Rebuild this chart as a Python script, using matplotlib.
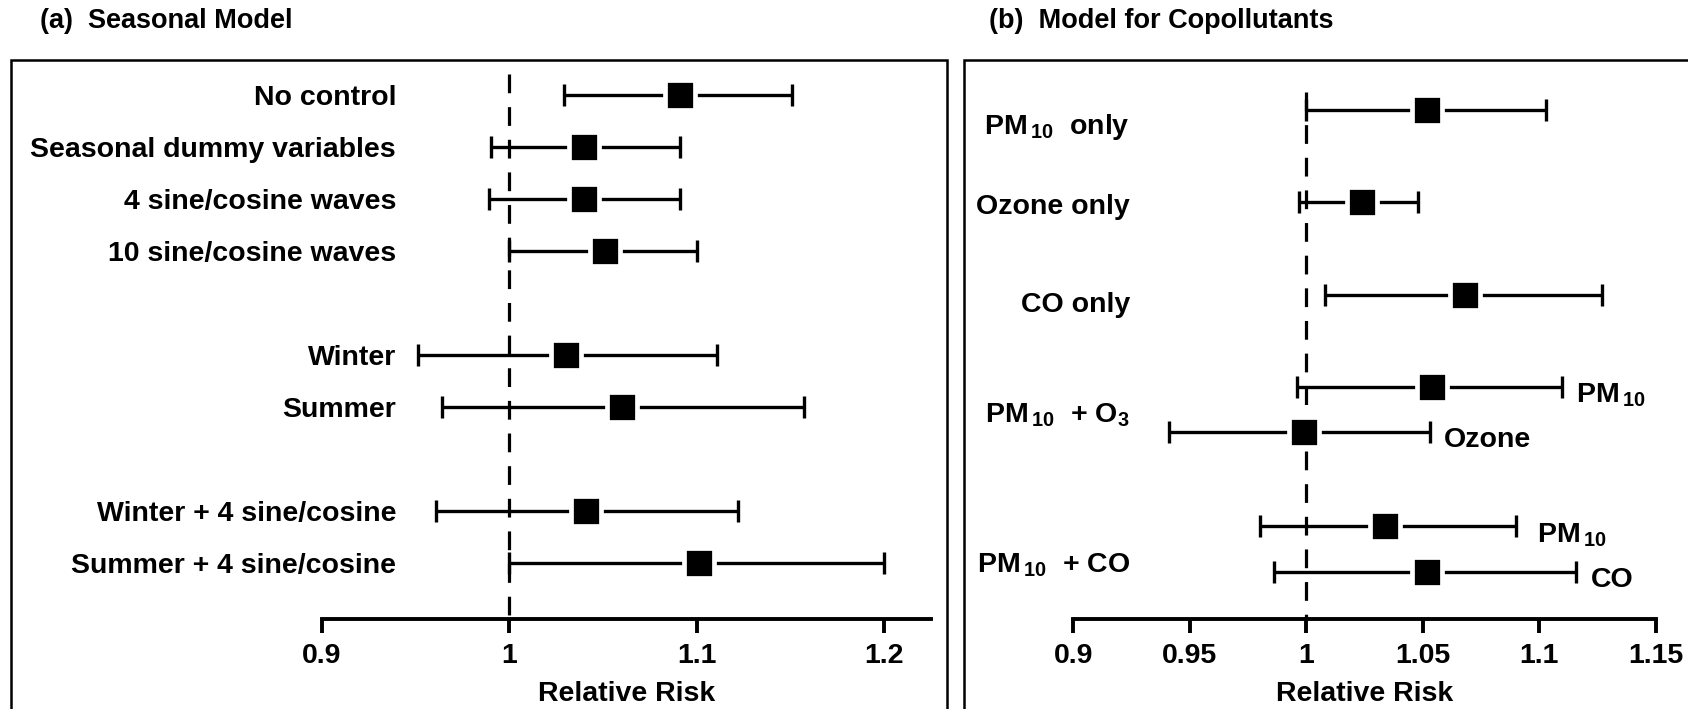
import numpy as np
import matplotlib
matplotlib.use("Agg")
import matplotlib.pyplot as plt
from matplotlib.patches import Rectangle

plt.rcParams["font.family"] = ["Liberation Sans", "DejaVu Sans"]
plt.rcParams["font.weight"] = "bold"
plt.rcParams["axes.labelweight"] = "bold"
plt.rcParams["mathtext.fontset"] = "custom"
plt.rcParams["mathtext.bf"] = "Liberation Sans:bold"
plt.rcParams["mathtext.rm"] = "Liberation Sans:bold"
plt.rcParams["mathtext.default"] = "bf"
plt.rcParams["lines.scale_dashes"] = False

# (a) seasonal model: relative risk and 95% CI
season_labels = ["No control", "Seasonal dummy variables", "4 sine/cosine waves",
                 "10 sine/cosine waves", "Winter", "Summer",
                 "Winter + 4 sine/cosine", "Summer + 4 sine/cosine"]
season_rr = [1.091, 1.040, 1.040, 1.051, 1.030, 1.060, 1.041, 1.101]
season_lo = [1.029, 0.990, 0.989, 1.000, 0.951, 0.964, 0.961, 1.000]
season_hi = [1.151, 1.091, 1.091, 1.100, 1.111, 1.157, 1.122, 1.200]

# (b) copollutant model
copoll_rr = [1.052, 1.024, 1.068, 1.054, 0.999, 1.034, 1.052]
copoll_lo = [1.000, 0.997, 1.008, 0.996, 0.941, 0.980, 0.986]
copoll_hi = [1.103, 1.048, 1.127, 1.110, 1.053, 1.090, 1.116]
copoll_models = ["PM$_{\\,10}$  only", "Ozone only", "CO only",
                 "PM$_{\\,10}$  + O$_3$", "PM$_{\\,10}$  + CO"]
copoll_pollutants = [None, None, None, "PM$_{\\,10}$", "Ozone", "PM$_{\\,10}$", "CO"]

null_rr = 1.0

# layout (row positions, pixel-derived)
season_rows = [0, 1, 2, 3, 5, 6, 8, 9]
copoll_rows = [0.29, 2.05, 3.84, 5.61, 6.47, 8.29, 9.16]
model_label_rows = [0.74, 2.28, 4.16, 6.30, 9.18]
poll_label_dx = [0, 0, 0, 0.006, 0.006, 0.009, 0.006]
y_bottom, y_top = 10.07, -0.675

W, H = 1688, 709
fig = plt.figure(figsize=(W / 100, H / 100), dpi=100)

ax1 = fig.add_axes([322 / W, 90 / H, 609 / W, 559 / H])
ax2 = fig.add_axes([1073.3 / W, 90 / H, 582.3 / W, 559 / H])

fs = 20.5
err_kw = dict(fmt="none", ecolor="black", elinewidth=2.4, capsize=8, capthick=2.4, zorder=3)
mk_kw = dict(linestyle="none", marker="s", markersize=21, markerfacecolor="black",
             markeredgecolor="white", markeredgewidth=3.4, zorder=4)


def draw_forest(ax, rr, lo, hi, rows, dash_top):
    rr, lo, hi = np.array(rr), np.array(lo), np.array(hi)
    ax.plot([null_rr, null_rr], [dash_top, y_bottom], color="black", lw=2.3,
            linestyle=(0, (13.5, 10)), zorder=2)
    ax.errorbar(rr, rows, xerr=[rr - lo, hi - rr], **err_kw)
    ax.plot(rr, rows, **mk_kw)
    ax.set_ylim(y_bottom, y_top)
    ax.set_yticks([])
    for s in ["left", "right", "top"]:
        ax.spines[s].set_visible(False)
    ax.spines["bottom"].set_linewidth(2.8)
    ax.tick_params(axis="x", direction="out", length=10, width=2.8, pad=7, labelsize=fs)
    ax.set_xlabel("Relative Risk", fontsize=fs, fontweight="bold", labelpad=9)
    ax.patch.set_alpha(0)


draw_forest(ax1, season_rr, season_lo, season_hi, season_rows, -0.41)
ax1.set_xlim(0.9, 1.225)
ax1.set_xticks([0.9, 1.0, 1.1, 1.2])
ax1.set_xticklabels(["0.9", "1", "1.1", "1.2"])
for lab, r in zip(season_labels, season_rows):
    ax1.text(0.9395, r, lab, ha="right", va="center_baseline", fontsize=fs)

draw_forest(ax2, copoll_rr, copoll_lo, copoll_hi, copoll_rows, -0.06)
ax2.set_xlim(0.9, 1.15)
ax2.set_xticks([0.9, 0.95, 1.0, 1.05, 1.1, 1.15])
ax2.set_xticklabels(["0.9", "0.95", "1", "1.05", "1.1", "1.15"])
for lab, r in zip(copoll_models, model_label_rows):
    ax2.text(0.9243, r, lab, ha="right", va="baseline", fontsize=fs)
for lab, hi, r, dx in zip(copoll_pollutants, copoll_hi, copoll_rows, poll_label_dx):
    if lab is not None:
        ax2.text(hi + dx, r + 0.3, lab, ha="left", va="baseline", fontsize=fs)

# panel frames
top = (H - 60) / H
fig.add_artist(Rectangle((11 / W, -0.05), 936 / W, top + 0.05, transform=fig.transFigure,
                         fill=False, edgecolor="black", lw=1.8))
fig.add_artist(Rectangle((964 / W, -0.05), 0.5, top + 0.05, transform=fig.transFigure,
                         fill=False, edgecolor="black", lw=1.8))

fig.text(40 / W, 1 - 21 / H, "(a)  Seasonal Model", fontsize=19.5, va="center", ha="left")
fig.text(989 / W, 1 - 21 / H, "(b)  Model for Copollutants", fontsize=19.5, va="center", ha="left")

fig.savefig("out.png", dpi=100)
